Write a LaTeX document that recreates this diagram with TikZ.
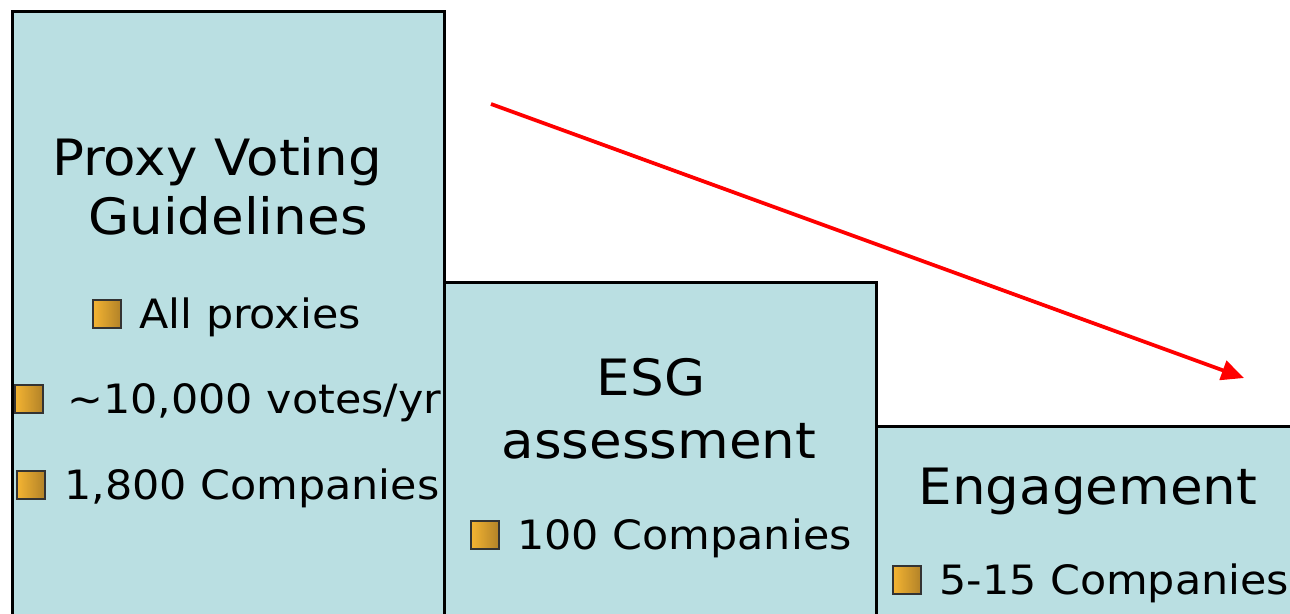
\documentclass[tikz,border=0pt]{standalone}
\usepackage{fontspec}
\setmainfont{DejaVu Sans}
\newfontfamily\stagefont[FakeStretch=1.06]{DejaVu Sans}
\usetikzlibrary{arrows.meta}

\definecolor{stagefill}{RGB}{186,223,226}
\definecolor{bulletlight}{RGB}{244,180,50}
\definecolor{bulletdark}{RGB}{178,130,40}

\tikzset{
  stage/.style={draw=black, line width=0.06cm, fill=stagefill},
  heading/.style={font=\stagefont\fontsize{28.5}{34}\selectfont, inner sep=0, anchor=base},
  item/.style={font=\stagefont\fontsize{23}{28}\selectfont, inner sep=0, anchor=base west},
  bullet/.style={draw=black!80, line width=0.7pt, left color=bulletlight,
    right color=bulletdark, minimum size=0.56cm, inner sep=0},
  trend/.style={draw=red, line width=0.075cm, -{Triangle[length=0.45cm,width=0.4cm]}}
}

\begin{document}
\begin{tikzpicture}[x=0.02cm, y=-0.02cm]
  \useasboundingbox (0,0) rectangle (1290,613);
  \clip (0,0) rectangle (1290,613);

  % the three steps, each lower than the last
  \draw[stage] (12.5,11) rectangle (444,640);
  \draw[stage] (444,282) rectangle (876,640);
  \draw[stage] (876,426) rectangle (1310,640);

  % step 1
  \node[heading] (pvg1) at (217,175) {Proxy Voting};
  \node[heading] (pvg2) at (228,234) {Guidelines};
  \node[bullet] (b1) at (107,314) {};
  \node[item] (all) at (139,328) {All proxies};
  \node[bullet] (b2) at (29,399) {};
  \node[item] (votes) at (67,413) {\textasciitilde 10,000 votes/yr};
  \node[bullet] (b3) at (31,485) {};
  \node[item] (cos1800) at (64,499) {1,800 Companies};

  % step 2
  \node[heading] (esg1) at (651,395) {ESG};
  \node[heading] (esg2) at (659,458) {assessment};
  \node[bullet] (b4) at (485,535) {};
  \node[item] (cos100) at (517,549) {100 Companies};

  % step 3
  \node[heading] (eng) at (1088,504) {Engagement};
  \node[bullet] (b5) at (907,580) {};
  \node[item] (cos5) at (939,594) {5-15 Companies};

  % narrowing focus
  \coordinate (start) at (491,104);
  \coordinate (end) at (1244,378);
  \draw[trend] (start) -- (end);
\end{tikzpicture}
\end{document}
